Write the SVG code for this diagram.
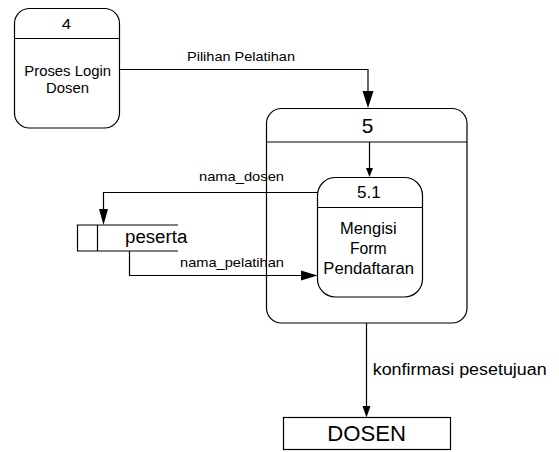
<svg xmlns="http://www.w3.org/2000/svg" width="559" height="452" viewBox="0 0 559 452">
  <style>
    .box { fill: #ffffff; stroke: #000000; stroke-width: 1.2; }
    .line { fill: none; stroke: #000000; stroke-width: 1.2; }
    .t { font-family: "Liberation Sans", Arial, sans-serif; fill: #000000; }
  </style>
  <rect width="559" height="452" fill="#ffffff"/>

  <g id="proses-4">
    <rect class="box" x="14.5" y="8.5" width="105" height="119.5" rx="15" ry="15"/>
    <line class="line" x1="14.5" y1="38.5" x2="119.5" y2="38.5"/>
    <text class="t" x="61.7" y="29.3" font-size="15" textLength="9.3" lengthAdjust="spacingAndGlyphs">4</text>
    <text class="t" x="24.3" y="76" font-size="14" textLength="86.7" lengthAdjust="spacingAndGlyphs">Proses Login</text>
    <text class="t" x="46" y="92.7" font-size="14" textLength="43" lengthAdjust="spacingAndGlyphs">Dosen</text>
  </g>

  <g id="proses-5">
    <rect class="box" x="266.5" y="108.5" width="200.5" height="214.5" rx="15" ry="15"/>
    <line class="line" x1="266.5" y1="142" x2="467" y2="142"/>
    <text class="t" x="361.7" y="133.3" font-size="21" textLength="11.6" lengthAdjust="spacingAndGlyphs">5</text>
  </g>

  <g id="proses-5-1">
    <rect class="box" x="317.5" y="177.5" width="105" height="119.5" rx="18" ry="18"/>
    <line class="line" x1="317.5" y1="207.5" x2="422.5" y2="207.5"/>
    <text class="t" x="357" y="197.7" font-size="17" textLength="23.7" lengthAdjust="spacingAndGlyphs">5.1</text>
    <text class="t" x="340" y="234" font-size="16" textLength="56.7" lengthAdjust="spacingAndGlyphs">Mengisi</text>
    <text class="t" x="350" y="254" font-size="16" textLength="36.7" lengthAdjust="spacingAndGlyphs">Form</text>
    <text class="t" x="323.3" y="274" font-size="16" textLength="90.7" lengthAdjust="spacingAndGlyphs">Pendaftaran</text>
  </g>

  <g id="peserta">
    <path class="line" d="M178 225 H77.5 V251 H178"/>
    <line class="line" x1="97.5" y1="225" x2="97.5" y2="251"/>
    <text class="t" x="125" y="243.3" font-size="18" textLength="62.3" lengthAdjust="spacingAndGlyphs">peserta</text>
  </g>

  <g id="dosen">
    <rect class="box" x="283.5" y="417.5" width="167" height="32"/>
    <text class="t" x="327.3" y="440.7" font-size="22" textLength="78.7" lengthAdjust="spacingAndGlyphs">DOSEN</text>
  </g>

  <g id="connectors">
    <!-- Pilihan Pelatihan: 4 -> 5 -->
    <path class="line" d="M119.5 69.5 H368 V92"/>
    <polygon points="362.5,91 373.5,91 368,108" fill="#000"/>
    <text class="t" x="187" y="60.7" font-size="13.5" textLength="108" lengthAdjust="spacingAndGlyphs">Pilihan Pelatihan</text>

    <!-- 5 -> 5.1 -->
    <line class="line" x1="369.5" y1="142" x2="369.5" y2="169"/>
    <polygon points="366,168 373,168 369.5,177" fill="#000"/>

    <!-- nama_dosen: 5.1 -> peserta -->
    <path class="line" d="M317.5 192.5 H103.5 V210"/>
    <polygon points="99,209 108,209 103.5,225" fill="#000"/>
    <text class="t" x="199" y="180.7" font-size="13.5" textLength="85" lengthAdjust="spacingAndGlyphs">nama_dosen</text>

    <!-- nama_pelatihan: peserta -> 5.1 -->
    <path class="line" d="M129.5 251 V275.5 H302"/>
    <polygon points="301,270.5 301,280.5 317.5,275.5" fill="#000"/>
    <text class="t" x="180" y="267.3" font-size="13.5" textLength="104" lengthAdjust="spacingAndGlyphs">nama_pelatihan</text>

    <!-- konfirmasi pesetujuan: 5 -> DOSEN -->
    <line class="line" x1="366.5" y1="323" x2="366.5" y2="407"/>
    <polygon points="362.5,406 370.5,406 366.5,417.5" fill="#000"/>
    <text class="t" x="372.7" y="375" font-size="16" textLength="174" lengthAdjust="spacingAndGlyphs">konfirmasi pesetujuan</text>
  </g>
</svg>
